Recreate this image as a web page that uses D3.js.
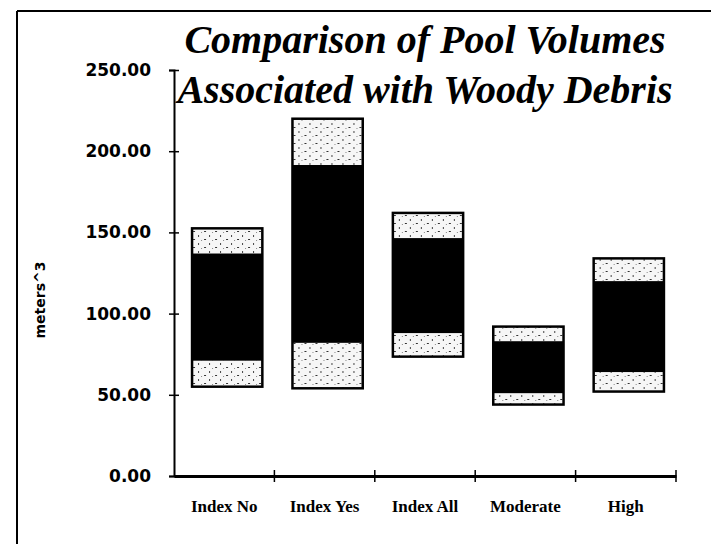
<!DOCTYPE html>
<html>
<head>
<meta charset="utf-8">
<script src="https://cdn.jsdelivr.net/npm/d3@7"></script>
<style>
  body { margin: 0; background: #fff; }
  svg { display: block; }
</style>
</head>
<body>
<div id="chart"></div>
<script>
// data (meters^3)
let categories = ["Index No", "Index Yes", "Index All", "Moderate", "High"];
let lowValues = [55, 54, 73.5, 44, 52];
let q1Values = [71, 82, 88, 51, 64];
let q3Values = [137, 191.5, 146.5, 83, 120];
let highValues = [152.5, 220, 162, 92, 134];
let yTicks = [0, 50, 100, 150, 200, 250];
let titleLines = ["Comparison of Pool Volumes", "Associated with Woody Debris"];

let W = 711, H = 544;
let margin = {top: 70, right: 35, bottom: 68, left: 174},
    width = W - margin.left - margin.right,
    height = H - margin.top - margin.bottom;

let svg = d3.select("#chart")
    .append("svg")
    .attr("width", W)
    .attr("height", H);

// light segment texture
let pat = svg.append("defs").append("pattern")
    .attr("id", "speck")
    .attr("patternUnits", "userSpaceOnUse")
    .attr("width", 11)
    .attr("height", 8);
pat.append("rect").attr("width", 11).attr("height", 8).attr("fill", "#f6f6f6");
pat.append("rect").attr("x", 1).attr("y", 1).attr("width", 2).attr("height", 1).attr("fill", "#333");
pat.append("rect").attr("x", 6).attr("y", 5).attr("width", 1).attr("height", 2).attr("fill", "#444");
pat.append("rect").attr("x", 9).attr("y", 2).attr("width", 1).attr("height", 1).attr("fill", "#888");

// frame
svg.append("line").attr("x1", 17).attr("x2", W).attr("y1", 11).attr("y2", 11)
    .attr("stroke", "#000").attr("stroke-width", 2);
svg.append("line").attr("x1", 17).attr("x2", 17).attr("y1", 11).attr("y2", H)
    .attr("stroke", "#000").attr("stroke-width", 2);

let g = svg.append("g")
    .attr("transform", "translate(" + margin.left + "," + margin.top + ")");

let x = d3.scaleBand()
    .domain(categories)
    .range([0, width])
    .paddingInner(0.3)
    .paddingOuter(0.15);

let y = d3.scaleLinear()
    .domain([0, 250])
    .range([height, 0]);

// bars: low->q1 light, q1->q3 black, q3->high light
let rows = categories.map(function (c, i) {
    return {cat: c, low: lowValues[i], q1: q1Values[i], q3: q3Values[i], high: highValues[i]};
});

let bar = g.selectAll(".bar")
    .data(rows)
    .enter()
    .append("g")
    .attr("class", "bar")
    .attr("transform", function (d) {
        return "translate(" + (x(d.cat) + 3) + ",0)";
    });

bar.append("rect")
    .attr("y", function (d) { return y(d.q1); })
    .attr("height", function (d) { return y(d.low) - y(d.q1); })
    .attr("width", x.bandwidth())
    .attr("fill", "url(#speck)");

bar.append("rect")
    .attr("y", function (d) { return y(d.high); })
    .attr("height", function (d) { return y(d.q3) - y(d.high); })
    .attr("width", x.bandwidth())
    .attr("fill", "url(#speck)");

bar.append("rect")
    .attr("y", function (d) { return y(d.q3); })
    .attr("height", function (d) { return y(d.q1) - y(d.q3); })
    .attr("width", x.bandwidth())
    .attr("fill", "#000");

bar.append("rect")
    .attr("y", function (d) { return y(d.high); })
    .attr("height", function (d) { return y(d.low) - y(d.high); })
    .attr("width", x.bandwidth())
    .attr("fill", "none")
    .attr("stroke", "#000")
    .attr("stroke-width", 2.5);

// y axis
let yAxis = g.append("g")
    .call(d3.axisLeft(y)
        .tickValues(yTicks)
        .tickFormat(d3.format(".2f"))
        .tickSize(5)
        .tickPadding(18));
yAxis.select(".domain").attr("stroke-width", 2);
yAxis.selectAll(".tick line").attr("x1", -5).attr("x2", 5).attr("stroke-width", 1.5);
yAxis.selectAll("text")
    .style("font-family", "'DejaVu Sans', sans-serif")
    .style("font-weight", "bold")
    .style("font-size", "17px")
    .attr("fill", "#000");

// x axis: labels at band centres, ticks at band boundaries
let xAxis = g.append("g")
    .attr("transform", "translate(0," + height + ")")
    .call(d3.axisBottom(x).tickSize(0).tickPadding(24));
xAxis.select(".domain").attr("stroke-width", 3);
xAxis.selectAll("text")
    .style("font-family", "'Liberation Serif', 'Times New Roman', serif")
    .style("font-weight", "bold")
    .style("font-size", "17px")
    .attr("fill", "#000");

g.append("g")
    .selectAll("line")
    .data(categories)
    .enter()
    .append("line")
    .attr("x1", function (d) { return x(d) + x.step() * (1 - x.paddingInner() / 2); })
    .attr("x2", function (d) { return x(d) + x.step() * (1 - x.paddingInner() / 2); })
    .attr("y1", height - 6)
    .attr("y2", height + 6)
    .attr("stroke", "#000")
    .attr("stroke-width", 1.5);

// y label
svg.append("text")
    .attr("transform", "translate(45,300) rotate(-90)")
    .attr("text-anchor", "middle")
    .style("font-family", "'DejaVu Sans', sans-serif")
    .style("font-weight", "bold")
    .style("font-size", "14px")
    .text("meters^3");

// title
svg.append("g")
    .selectAll("text")
    .data(titleLines)
    .enter()
    .append("text")
    .attr("x", 425)
    .attr("y", function (d, i) { return 53 + i * 50; })
    .attr("text-anchor", "middle")
    .style("font-family", "'Liberation Serif', 'Times New Roman', serif")
    .style("font-style", "italic")
    .style("font-weight", "bold")
    .style("font-size", "40px")
    .text(function (d) { return d; });
</script>
</body>
</html>
